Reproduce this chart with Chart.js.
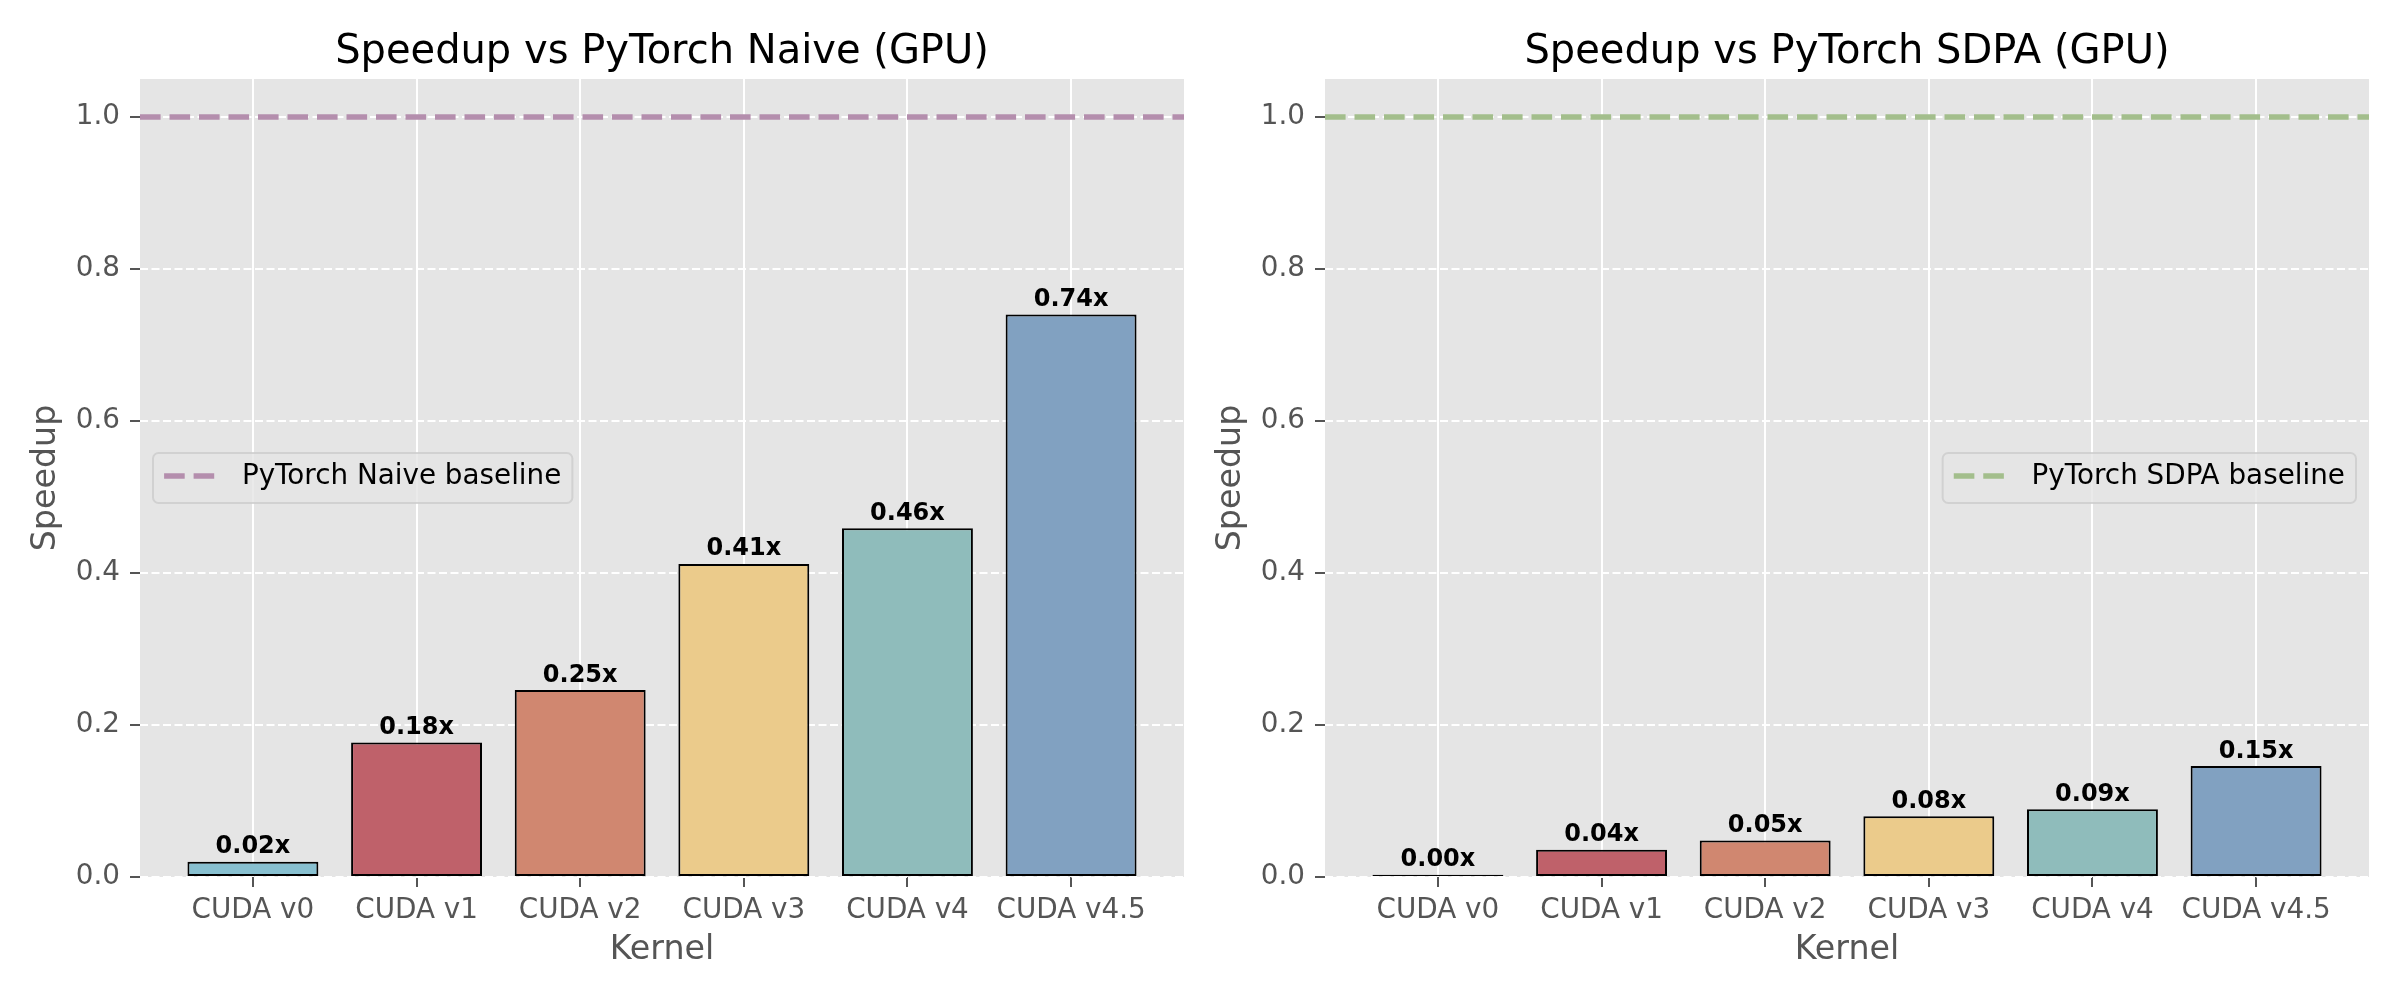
<!DOCTYPE html>
<html><head><meta charset="utf-8">
<script src="https://cdn.jsdelivr.net/npm/chart.js@4/dist/chart.umd.min.js"></script>
<style>
html,body{margin:0;padding:0;background:#fff;}
#wrap{position:relative;width:2400px;height:1000px;overflow:hidden;}
#p1{position:absolute;left:0;top:0;width:1185px;height:1000px;}
#p2{position:absolute;left:1185px;top:0;width:1215px;height:1000px;}
</style></head><body>
<div id="wrap">
<div id="p1"><canvas id="c1" width="1185" height="1000"></canvas></div>
<div id="p2"><canvas id="c2" width="1215" height="1000"></canvas></div>
</div>
<script>
// ---- data ----
const categories = ['CUDA v0', 'CUDA v1', 'CUDA v2', 'CUDA v3', 'CUDA v4', 'CUDA v4.5'];
const naiveSpeedup = [0.020, 0.177, 0.246, 0.412, 0.459, 0.740];
const sdpaSpeedup = [0.003, 0.036, 0.048, 0.080, 0.089, 0.146];
const baselineValue = 1.0;
const panelTitles = ['Speedup vs PyTorch Naive (GPU)', 'Speedup vs PyTorch SDPA (GPU)'];
const baselineLabels = ['PyTorch Naive baseline', 'PyTorch SDPA baseline'];
const xAxisTitle = 'Kernel';
const yAxisTitle = 'Speedup';
const yTickStep = 0.2;
const yMax = 1.05;
const xMin = -0.69, xMax = 5.69;
// ---- styles ----
const barColors = ['#88C0D0', '#BF616A', '#D08770', '#EBCB8B', '#8FBCBB', '#81A1C1'];
const baselineColors = ['#B48EAD', '#A3BE8C'];
const FONT = '"DejaVu Sans", sans-serif';
const TICK_SIZE = 27.8, LABEL_SIZE = 33.3, TITLE_SIZE = 40, BARLABEL_SIZE = 24;

Chart.defaults.font.family = FONT;

function makeChart(canvasId, values, title, baseLabel, baseColor, rightPad, legendSide) {
  const panelPlugin = {
    id: 'panel' + canvasId,
    beforeDraw(chart) {
      const {ctx, chartArea: a} = chart;
      ctx.save();
      ctx.fillStyle = '#E5E5E5';
      ctx.fillRect(a.left, a.top, a.right - a.left, a.bottom - a.top);
      ctx.restore();
    },
    afterDatasetsDraw(chart) {
      const {ctx} = chart;
      const meta = chart.getDatasetMeta(0);
      ctx.save();
      ctx.font = 'bold ' + BARLABEL_SIZE + 'px ' + FONT;
      ctx.fillStyle = '#000';
      ctx.textAlign = 'center';
      ctx.textBaseline = 'alphabetic';
      meta.data.forEach((el, i) => {
        const v = chart.data.datasets[0].data[i].y;
        ctx.fillText(v.toFixed(2) + 'x', el.x, el.y - 8.5);
      });
      ctx.restore();
    },
    afterDraw(chart) {
      const {ctx, chartArea: a} = chart;
      ctx.save();
      // title
      ctx.font = TITLE_SIZE + 'px ' + FONT;
      ctx.fillStyle = '#000';
      ctx.textAlign = 'center';
      ctx.textBaseline = 'alphabetic';
      ctx.fillText(title, (a.left + a.right) / 2, 63);
      // legend
      const ds = chart.data.datasets[1];
      ctx.font = TICK_SIZE + 'px ' + FONT;
      const tw = ctx.measureText(ds.label).width;
      const pad = 11.1, handle = 55.6, gap = 22.2;
      const w = pad + handle + gap + tw + pad;
      const h = 50;
      const x0 = legendSide === 'left' ? a.left + 13 : a.right - 13 - w;
      const cy = (a.top + a.bottom) / 2;
      const y0 = cy - h / 2;
      ctx.beginPath();
      ctx.roundRect(x0, y0, w, h, 5.6);
      ctx.fillStyle = 'rgba(229,229,229,0.8)';
      ctx.fill();
      ctx.lineWidth = 2;
      ctx.strokeStyle = 'rgba(204,204,204,0.8)';
      ctx.stroke();
      ctx.beginPath();
      ctx.setLineDash(ds.borderDash);
      ctx.lineWidth = ds.borderWidth;
      ctx.strokeStyle = ds.borderColor;
      ctx.moveTo(x0 + pad, cy - 2);
      ctx.lineTo(x0 + pad + handle, cy - 2);
      ctx.stroke();
      ctx.setLineDash([]);
      ctx.fillStyle = '#000';
      ctx.textAlign = 'left';
      ctx.textBaseline = 'middle';
      ctx.fillText(ds.label, x0 + pad + handle + gap, cy - 1.5);
      ctx.restore();
    }
  };

  return new Chart(document.getElementById(canvasId), {
    type: 'bar',
    data: {
      datasets: [
        {
          type: 'bar',
          label: 'speedup',
          data: values.map((v, i) => ({x: i, y: v})),
          backgroundColor: barColors,
          borderColor: '#000000',
          borderWidth: 2,
          borderSkipped: false,
          barPercentage: 0.8,
          categoryPercentage: 1.0,
          order: 1
        },
        {
          type: 'line',
          label: baseLabel,
          data: [{x: xMin, y: baselineValue}, {x: xMax, y: baselineValue}],
          borderColor: baseColor,
          borderWidth: 5.5,
          borderDash: [20.6, 8.9],
          pointRadius: 0,
          fill: false,
          order: 0
        }
      ]
    },
    options: {
      responsive: false,
      animation: false,
      devicePixelRatio: 1,
      layout: {padding: {left: 0, right: rightPad, top: 79, bottom: 0}},
      plugins: {legend: {display: false}, tooltip: {enabled: false}, title: {display: false}},
      scales: {
        x: {
          type: 'linear',
          min: xMin, max: xMax,
          offset: false,
          afterFit: s => { s.height = 123; },
          grid: {offset: false, color: '#FFFFFF', lineWidth: 2, tickColor: '#555555', tickLength: 10, tickWidth: 2},
          border: {display: false},
          ticks: {
            stepSize: 1, includeBounds: false, autoSkip: false, maxRotation: 0,
            color: '#555555', padding: 7, font: {size: TICK_SIZE},
            callback: v => (Number.isInteger(v) && categories[v] !== undefined) ? categories[v] : ''
          },
          title: {display: true, text: xAxisTitle, color: '#555555', font: {size: LABEL_SIZE}, padding: {top: 0, bottom: 29.5}}
        },
        y: {
          min: 0, max: yMax,
          afterFit: s => { s.width = 140; },
          grid: {color: '#FFFFFF', lineWidth: 2, tickColor: '#555555', tickLength: 10, tickWidth: 2},
          border: {display: false, dash: [8, 3.5]},
          ticks: {
            stepSize: yTickStep, includeBounds: false,
            color: '#555555', padding: 10, font: {size: TICK_SIZE},
            callback: v => v.toFixed(1)
          },
          title: {display: true, text: yAxisTitle, color: '#555555', font: {size: LABEL_SIZE}, padding: {top: 26, bottom: 0}}
        }
      }
    },
    plugins: [panelPlugin]
  });
}

makeChart('c1', naiveSpeedup, panelTitles[0], baselineLabels[0], baselineColors[0], 1, 'left');
makeChart('c2', sdpaSpeedup, panelTitles[1], baselineLabels[1], baselineColors[1], 31, 'right');
</script>
</body></html>
